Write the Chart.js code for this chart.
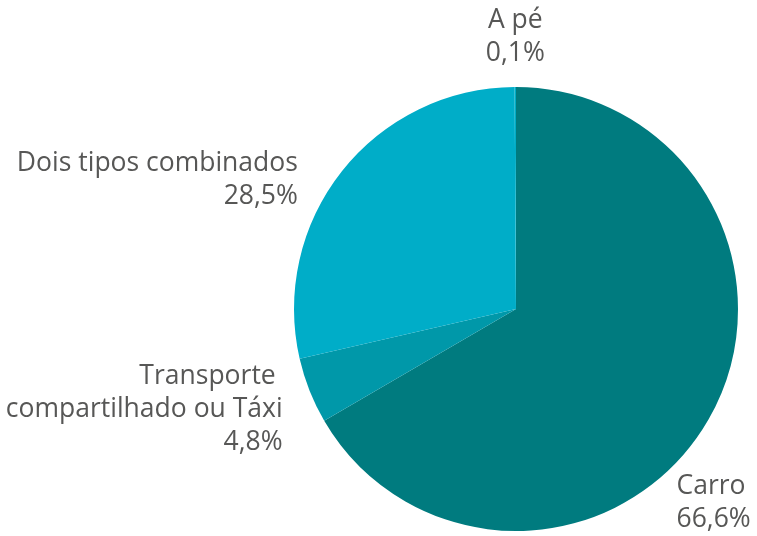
<!DOCTYPE html>
<html>
<head>
<meta charset="utf-8">
<script src="https://cdn.jsdelivr.net/npm/chart.js@4.4.1/dist/chart.umd.min.js"></script>
<style>
  html, body { margin: 0; padding: 0; background: #fff; }
  #wrap { width: 757px; height: 536px; }
</style>
</head>
<body>
<div id="wrap"><canvas id="grafico"></canvas></div>
<script>
// Dados do gráfico
const categorias = ["Carro", "Transporte \ncompartilhado ou Táxi", "Dois tipos combinados", "A pé"];
const percentuais = [66.6, 4.8, 28.5, 0.1];
const rotulos = ["66,6%", "4,8%", "28,5%", "0,1%"];
const cores = ["#007b7f", "#0098a9", "#00adc8", "#00adc8"];

// posição de cada rótulo em relação ao ponto médio do arco
const posRotulos = [
    { dx: -32, dy: 83, align: "left" },
    { dx: -27, dy: 19, align: "right" },
    { dx: -44, dy: 9, align: "right" },
    { dx: 0, dy: -50, align: "center" }
];

const fonte = "400 26.5px 'Open Sans'";
const alturaLinha = 33;

// Plugin que desenha os rótulos fora da pizza
const rotulosExternos = {
    id: "rotulosExternos",
    afterDatasetsDraw(chart) {
        const ctx = chart.ctx;
        const arcos = chart.getDatasetMeta(0).data;
        ctx.save();
        ctx.font = fonte;
        ctx.fillStyle = "#575756";
        ctx.textBaseline = "middle";
        arcos.forEach((arco, i) => {
            const meio = (arco.startAngle + arco.endAngle) / 2;
            const x = arco.x + Math.cos(meio) * arco.outerRadius + posRotulos[i].dx;
            const y = arco.y + Math.sin(meio) * arco.outerRadius + posRotulos[i].dy;
            const linhas = categorias[i].split("\n").concat(rotulos[i]);
            ctx.textAlign = posRotulos[i].align;
            const topo = y - (linhas.length - 1) * alturaLinha / 2;
            linhas.forEach((linha, j) => ctx.fillText(linha, x, topo + j * alturaLinha));
        });
        ctx.restore();
    }
};

new Chart(document.getElementById("grafico"), {
    type: "pie",
    data: {
        labels: categorias,
        datasets: [{
            data: percentuais,
            backgroundColor: cores,
            borderWidth: 0
        }]
    },
    options: {
        responsive: true,
        maintainAspectRatio: false,
        animation: false,
        layout: { padding: { left: 294, right: 19, top: 87, bottom: 5 } },
        plugins: {
            legend: { display: false },
            tooltip: { enabled: false }
        }
    },
    plugins: [rotulosExternos]
});
</script>
</body>
</html>
